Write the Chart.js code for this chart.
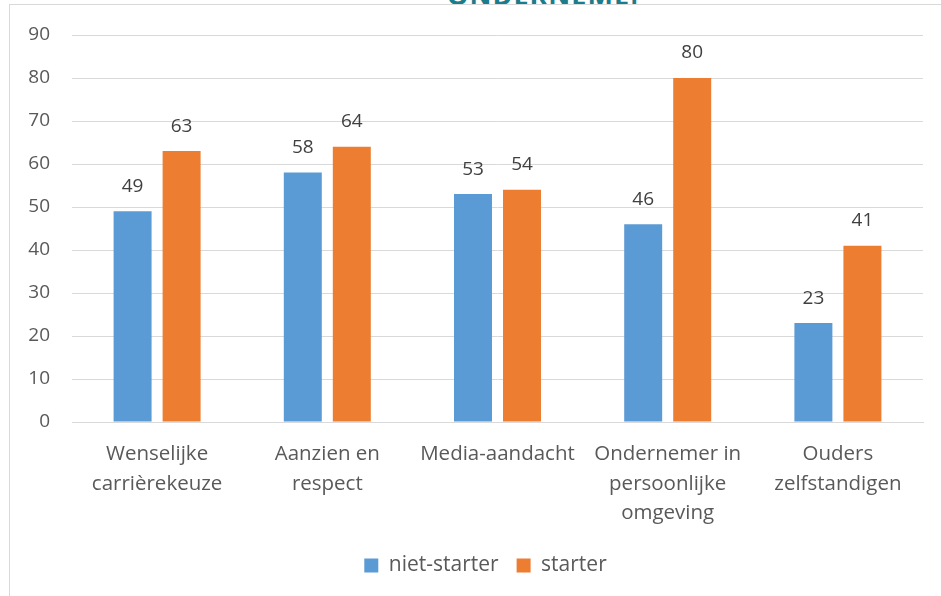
<!DOCTYPE html>
<html>
<head>
<meta charset="utf-8">
<script src="https://cdn.jsdelivr.net/npm/chart.js@4"></script>
<style>
  html, body { margin: 0; padding: 0; background: #fff; }
  body { width: 941px; height: 596px; overflow: hidden; position: relative; }
  #bannerClip { position: absolute; left: 440px; top: 0; width: 200px; height: 4px; overflow: hidden; }
  #banner { position: absolute; left: 7px; top: -24px; font: bold 27px 'Open Sans', sans-serif; color: #1b7c8c; letter-spacing: 1px; white-space: nowrap; }
  #topLine { position: absolute; left: 9px; top: 4px; width: 932px; height: 1px; background: #d9d9d9; }
  #leftLine { position: absolute; left: 9px; top: 4px; width: 1px; height: 592px; background: #d9d9d9; }
  #wrap { position: absolute; left: 10px; top: 5px; width: 931px; height: 591px; }
</style>
</head>
<body>
<div id="bannerClip"><div id="banner">ONDERNEMEN</div></div>
<div id="topLine"></div>
<div id="leftLine"></div>
<div id="wrap"><canvas id="chart"></canvas></div>
<script>
// categories and values
const categories = [
    ['Wenselijke', 'carrièrekeuze'],
    ['Aanzien en', 'respect'],
    ['Media-aandacht'],
    ['Ondernemer in', 'persoonlijke', 'omgeving'],
    ['Ouders', 'zelfstandigen']
];
const nietStarter = [49, 58, 53, 46, 23];
const starter = [63, 64, 54, 80, 41];
const yTicks = [0, 10, 20, 30, 40, 50, 60, 70, 80, 90];

const FONT = "'Open Sans', sans-serif";
const TEXT = '#595959';

// draw the value above each bar
const valueLabels = {
    id: 'valueLabels',
    afterDatasetsDraw(chart) {
        const ctx = chart.ctx;
        ctx.save();
        ctx.font = '19px ' + FONT;
        ctx.fillStyle = '#404040';
        ctx.textAlign = 'center';
        ctx.textBaseline = 'middle';
        chart.data.datasets.forEach((ds, i) => {
            chart.getDatasetMeta(i).data.forEach((bar, j) => {
                ctx.fillText(ds.data[j], bar.x, bar.y - 25);
            });
        });
        ctx.restore();
    }
};

// legend sits a bit right of the canvas centre in the original
const legendShift = {
    id: 'legendShift',
    afterLayout(chart) {
        chart.legend.left += 19;
        chart.legend.right += 19;
    }
};

new Chart(document.getElementById('chart'), {
    type: 'bar',
    data: {
        labels: categories,
        datasets: [
            { label: 'niet-starter', data: nietStarter, backgroundColor: '#5b9bd5', categoryPercentage: 0.576, barPercentage: 0.775 },
            { label: 'starter', data: starter, backgroundColor: '#ed7d31', categoryPercentage: 0.576, barPercentage: 0.775 }
        ]
    },
    options: {
        responsive: true,
        maintainAspectRatio: false,
        animation: false,
        layout: { padding: { top: 30, right: 18, left: 0, bottom: 10 } },
        scales: {
            x: {
                grid: { display: false },
                border: { color: '#d9d9d9', width: 1 },
                ticks: { color: TEXT, font: { family: FONT, size: 20.5, lineHeight: 1.42 }, maxRotation: 0, autoSkip: false, padding: 10 },
                afterFit(scale) { scale.height = 115; scale.paddingLeft = 0; scale.paddingRight = 0; }
            },
            y: {
                min: 0,
                max: 90,
                afterBuildTicks(scale) { scale.ticks = yTicks.map(v => ({ value: v })); },
                grid: { color: '#d9d9d9', lineWidth: 1, drawTicks: false },
                border: { display: false },
                ticks: { color: TEXT, font: { family: FONT, size: 19 }, padding: 22 },
                afterFit(scale) { scale.width = 62; scale.paddingTop = 0; scale.paddingBottom = 0; }
            }
        },
        plugins: {
            legend: {
                position: 'bottom',
                labels: { color: TEXT, font: { family: FONT, size: 21 }, boxWidth: 14, boxHeight: 14, padding: 18 }
            },
            tooltip: { enabled: false }
        }
    },
    plugins: [valueLabels, legendShift]
});
</script>
</body>
</html>
